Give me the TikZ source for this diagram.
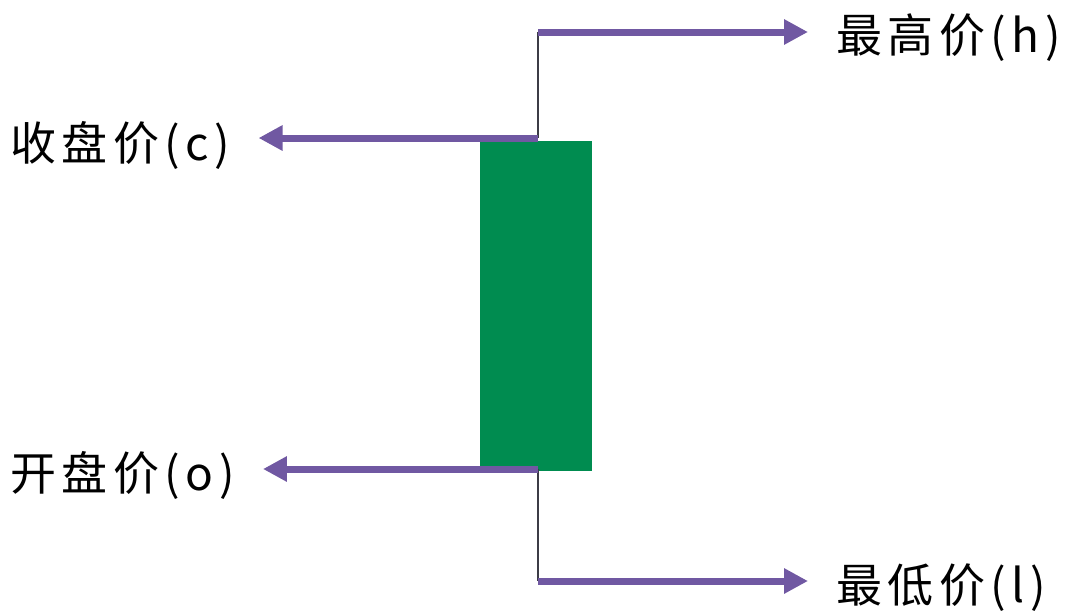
\documentclass[tikz,border=0pt]{standalone}
\usepackage{fontspec}
\setmainfont{Noto Sans CJK SC}
\usetikzlibrary{arrows.meta}
\usetikzlibrary{positioning}
\definecolor{kpurple}{RGB}{112, 88, 162}
\definecolor{kgreen}{RGB}{0, 140, 80}
\definecolor{kwick}{RGB}{60, 60, 70}
\tikzset{
  price/.style={font=\fontsize{46}{50}\selectfont\addfontfeature{LetterSpace=12}, inner sep=0pt, anchor=west},
  body/.style={fill=kgreen, minimum width=112pt, minimum height=330pt, inner sep=0pt},
  arrow/.style={-{Triangle[length=24pt,width=24pt]}, line width=7pt, draw=kpurple, shorten >=28pt},
  wickline/.style={draw=kwick, line width=2pt}
}
\begin{document}
\begin{tikzpicture}[x=1pt,y=-1pt]
  \useasboundingbox (0,0) rectangle (1065,611);
  % candle
  \node[body] (candle) at (536,306) {};
  \coordinate (high) at (538,32);
  \coordinate (low) at (538,581);
  \coordinate (close) at (538,138);
  \coordinate (open) at (538,469);
  \draw[wickline] (high) -- (close);
  \draw[wickline] (open) -- (low);
  % labels
  \node[price] (hlabel) at (836,38) {最高价(h)};
  \node[price] (clabel) at (10,145) {收盘价(c)};
  \node[price] (olabel) at (10,475) {开盘价(o)};
  \node[price] (llabel) at (836,588) {最低价(l)};
  % arrows
  \draw[arrow] (high) -- (high -| hlabel.west);
  \draw[arrow] (close) -- (close -| clabel.east);
  \draw[arrow] (open) -- (open -| olabel.east);
  \draw[arrow] (low) -- (low -| llabel.west);
\end{tikzpicture}
\end{document}
